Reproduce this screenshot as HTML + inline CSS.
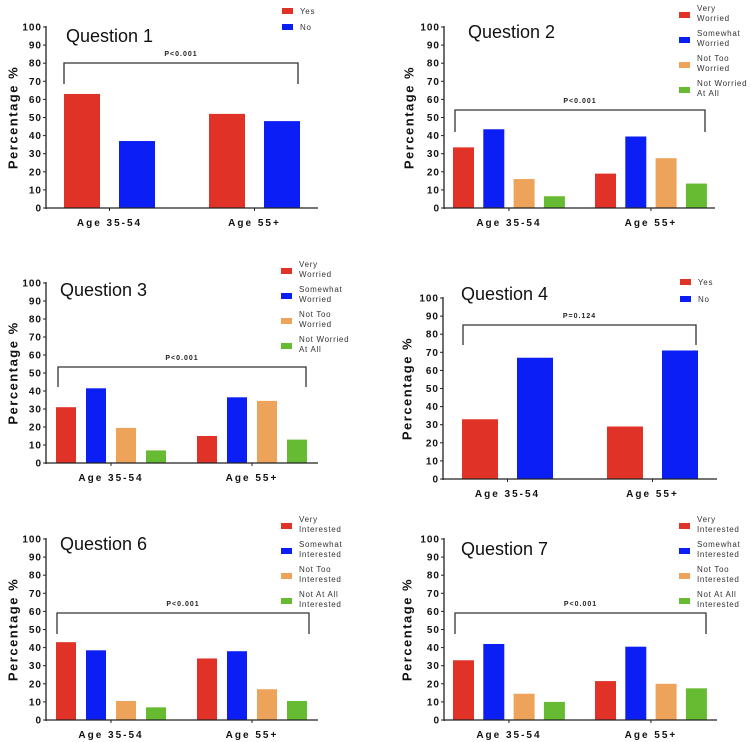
<!DOCTYPE html>
<html><head><meta charset="utf-8">
<style>
html,body{margin:0;padding:0;background:#fff;}
svg{display:block;}
text{font-family:"Liberation Sans",Arial,sans-serif;}
.tick{font-size:10px;font-weight:bold;letter-spacing:1px;fill:#111;}
.xl{font-size:10px;font-weight:bold;letter-spacing:2px;fill:#111;}
.yt{font-size:13px;font-weight:bold;letter-spacing:1.5px;fill:#111;}
.ttl{font-size:18px;fill:#111;}
.pv{font-size:7px;font-weight:bold;letter-spacing:1px;fill:#222;}
.lg{font-size:8px;letter-spacing:0.7px;fill:#333;}
</style></head>
<body>
<svg id="chart" width="750" height="742" viewBox="0 0 750 742" xmlns="http://www.w3.org/2000/svg"></svg>
<script>
const groups = ["Age 35-54", "Age 55+"];
const yTicks = [0,10,20,30,40,50,60,70,80,90,100];
const colors4 = ["#e03226","#0a1ef5","#eda35a","#66bb33"];
const colors2 = ["#e03226","#0a1ef5"];

const q1Series = ["Yes","No"];
const q1Values = [[63,52],[37,48]];
const q2Series = [["Very","Worried"],["Somewhat","Worried"],["Not Too","Worried"],["Not Worried","At All"]];
const q2Values = [[33.5,19],[43.5,39.5],[16,27.5],[6.5,13.5]];
const q3Series = [["Very","Worried"],["Somewhat","Worried"],["Not Too","Worried"],["Not Worried","At All"]];
const q3Values = [[31,15],[41.5,36.5],[19.5,34.5],[7,13]];
const q4Series = ["Yes","No"];
const q4Values = [[33,29],[67,71]];
const q6Series = [["Very","Interested"],["Somewhat","Interested"],["Not Too","Interested"],["Not At All","Interested"]];
const q6Values = [[43,34],[38.5,38],[10.5,17],[7,10.5]];
const q7Series = [["Very","Interested"],["Somewhat","Interested"],["Not Too","Interested"],["Not At All","Interested"]];
const q7Values = [[33,21.5],[42,40.5],[14.5,20],[10,17.5]];
const pLabels = ["P<0.001","P<0.001","P<0.001","P=0.124","P<0.001","P<0.001"];
const titles = ["Question 1","Question 2","Question 3","Question 4","Question 6","Question 7"];

const svg = document.getElementById('chart');
const NS = 'http://www.w3.org/2000/svg';
function mk(tag, attrs, parent){
  const e = document.createElementNS(NS, tag);
  for (const k in attrs) e.setAttribute(k, attrs[k]);
  parent.appendChild(e); return e;
}

const panels = [
 {series:q1Series, values:q1Values, colors:colors2, ax:46, y0:208, y100:27, right:318, tx:66, ty:42, lx:282, ly:8, gap:16, bw:36, inner:55, g0:64, gstep:145, bT:63, bL:64, bR:298, bD:84, yx:14},
 {series:q2Series, values:q2Values, colors:colors4, ax:444, y0:208, y100:27, right:715, tx:468, ty:38, lx:679, ly:12, gap:25, bw:21, inner:30.3, g0:453, gstep:142, bT:110, bL:455, bR:705, bD:132, yx:410},
 {series:q3Series, values:q3Values, colors:colors4, ax:46, y0:463, y100:283, right:318, tx:60, ty:296, lx:281, ly:268, gap:25, bw:20, inner:30, g0:56, gstep:141, bT:367, bL:58, bR:306, bD:387, yx:14},
 {series:q4Series, values:q4Values, colors:colors2, ax:443, y0:479, y100:298, right:717, tx:461, ty:300, lx:680, ly:279, gap:17, bw:36, inner:55, g0:462, gstep:145, bT:325, bL:463, bR:696, bD:345, yx:408},
 {series:q6Series, values:q6Values, colors:colors4, ax:46, y0:720, y100:539, right:318, tx:60, ty:550, lx:281, ly:523, gap:25, bw:20, inner:30, g0:56, gstep:141, bT:613, bL:57, bR:309, bD:634, yx:14},
 {series:q7Series, values:q7Values, colors:colors4, ax:444, y0:720, y100:539, right:717, tx:461, ty:555, lx:679, ly:523, gap:25, bw:21, inner:30.3, g0:453, gstep:142, bT:613, bL:455, bR:706, bD:634, yx:408}
];

panels.forEach((p, pi) => {
  const g = mk('g', {}, svg);
  
  
  const yS = v => p.y0 - (v/100)*(p.y0 - p.y100);
  p.values.forEach((vals, si) => {
    vals.forEach((v, gi) => {
      const x = p.g0 + gi*p.gstep + si*p.inner;
      const r = mk('rect', {x:x, y:yS(v), width:p.bw, height:p.y0 - yS(v), fill:p.colors[si]}, g);
      
      
    });
  });
  const yAxis = mk('line', {x1:p.ax, y1:p.y100-1, x2:p.ax, y2:p.y0+1, stroke:'#222', 'stroke-width':1.3}, g);
  
  
  const xAxis = mk('line', {x1:p.ax, y1:p.y0, x2:p.right, y2:p.y0, stroke:'#222', 'stroke-width':1.3}, g);
  
  
  yTicks.forEach(t => {
    mk('line', {x1:p.ax-3, y1:yS(t), x2:p.ax, y2:yS(t), stroke:'#222', 'stroke-width':1}, g);
    const tl = mk('text', {x:p.ax-4, y:yS(t)+3.5, 'text-anchor':'end', class:'tick'}, g);
    tl.textContent = t;
    
    
  });
  const nS = p.values.length;
  groups.forEach((gname, gi) => {
    const cx = p.g0 + gi*p.gstep + ((nS-1)*p.inner + p.bw)/2;
    mk('line', {x1:cx, y1:p.y0, x2:cx, y2:p.y0+3, stroke:'#222', 'stroke-width':1}, g);
    const xl = mk('text', {x:cx, y:p.y0+18, 'text-anchor':'middle', class:'xl'}, g);
    xl.textContent = gname;
    
    
  });
  const ymid = (p.y0 + p.y100)/2;
  const yt = mk('text', {x:p.yx, y:ymid, transform:'rotate(-90 '+p.yx+' '+ymid+')', 'text-anchor':'middle', class:'yt', 'dominant-baseline':'middle'}, g);
  yt.textContent = 'Percentage %';
  
  
  const tt = mk('text', {x:p.tx, y:p.ty, class:'ttl'}, g);
  tt.textContent = titles[pi];
  
  
  const br = mk('polyline', {points:p.bL+','+p.bD+' '+p.bL+','+p.bT+' '+p.bR+','+p.bT+' '+p.bR+','+p.bD, fill:'none', stroke:'#333', 'stroke-width':1.3}, g);
  
  
  const pt = mk('text', {x:(p.bL+p.bR)/2, y:p.bT-7, 'text-anchor':'middle', class:'pv'}, g);
  pt.textContent = pLabels[pi];
  
  
  p.series.forEach((s, si) => {
    const ly = p.ly + si*p.gap;
    const lr = mk('rect', {x:p.lx, y:ly, width:11, height:6, fill:p.colors[si]}, g);
    
    
    const lines = Array.isArray(s) ? s : [s];
    lines.forEach((ln, li) => {
      const lt = mk('text', {x:p.lx+18, y: (lines.length>1 ? ly - 1 + li*10 : ly+6), class:'lg'}, g);
      lt.textContent = ln;
      
      
    });
  });
});
</script>
</body></html>
